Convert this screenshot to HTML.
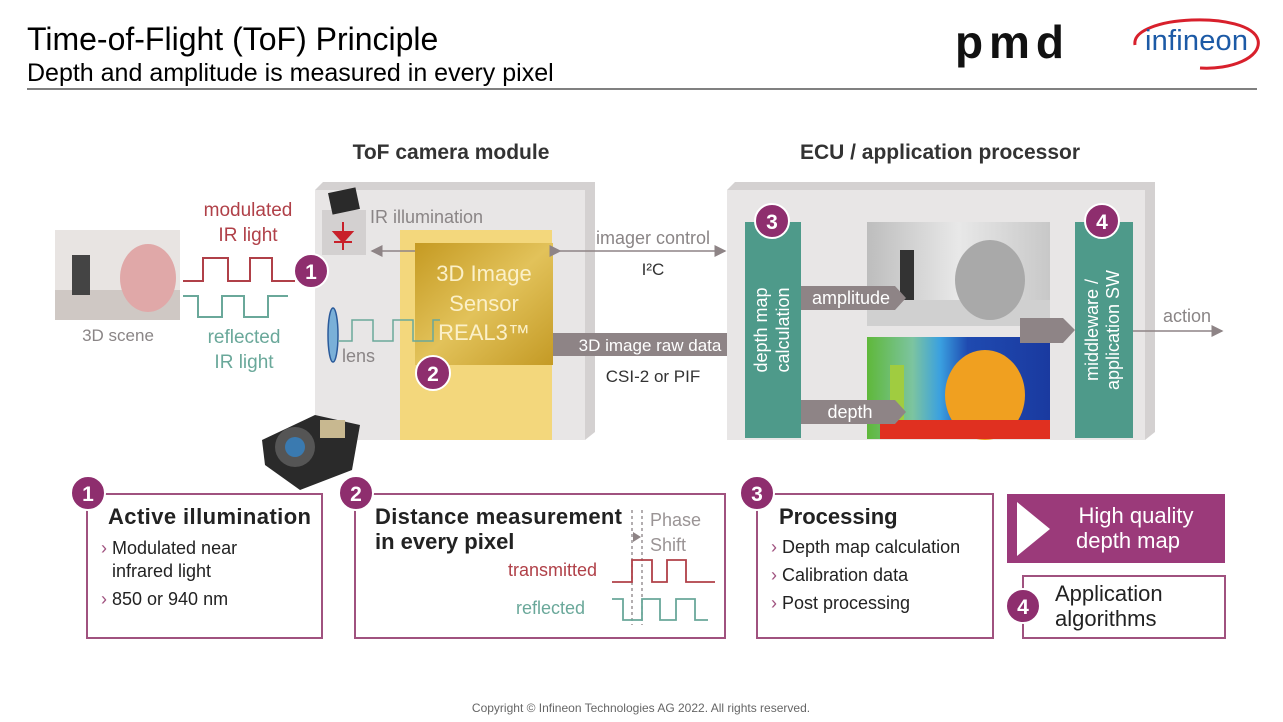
<!DOCTYPE html>
<html><head><meta charset="utf-8"><style>
html,body{margin:0;padding:0;background:#fff;}
svg{display:block;font-family:"Liberation Sans",sans-serif;}
</style></head><body>
<svg width="1283" height="722" viewBox="0 0 1283 722" xmlns="http://www.w3.org/2000/svg">
<defs>
<linearGradient id="gold" x1="0" y1="0" x2="1" y2="1"><stop offset="0" stop-color="#c59a22"/><stop offset="0.5" stop-color="#e2c25a"/><stop offset="1" stop-color="#c49a25"/></linearGradient>
<linearGradient id="depth" x1="0" y1="0" x2="1" y2="0"><stop offset="0" stop-color="#5fb83a"/><stop offset="0.25" stop-color="#7cc4a0"/><stop offset="0.4" stop-color="#3aa0e0"/><stop offset="0.55" stop-color="#1f4ab0"/><stop offset="1" stop-color="#1a3aa0"/></linearGradient>
<linearGradient id="amp" x1="0" y1="0" x2="1" y2="0"><stop offset="0" stop-color="#bdbdbd"/><stop offset="0.5" stop-color="#e8e8e8"/><stop offset="1" stop-color="#c8c8c8"/></linearGradient>
<marker id="ah" markerWidth="8" markerHeight="8" refX="7" refY="4" orient="auto"><path d="M0,0 L8,4 L0,8 z" fill="#8e8486"/></marker>
</defs>

<!-- header -->
<text x="27" y="50" font-size="32" fill="#000">Time-of-Flight (ToF) Principle</text>
<text x="27" y="81" font-size="25" fill="#000">Depth and amplitude is measured in every pixel</text>
<line x1="27" y1="89" x2="1257" y2="89" stroke="#000" stroke-width="1"/>
<text x="955" y="58" font-size="46" font-weight="bold" fill="#111" letter-spacing="6" textLength="115">pmd</text>
<path d="M1135,45 C1130,15 1250,10 1258,40 C1262,58 1230,70 1200,68" fill="none" stroke="#d8202c" stroke-width="3"/>
<text x="1145" y="50" font-size="29" fill="#1c5aa6" textLength="103">infineon</text>

<!-- section titles -->
<text x="451" y="159" font-size="21" font-weight="bold" fill="#333" text-anchor="middle">ToF camera module</text>
<text x="940" y="159" font-size="21" font-weight="bold" fill="#333" text-anchor="middle">ECU / application processor</text>

<!-- left module box -->
<polygon points="315,190 323,182 595,182 595,432 585,440 585,190" fill="#d4d1d1"/>
<rect x="315" y="190" width="270" height="250" fill="#e8e6e6"/>
<rect x="400" y="230" width="152" height="210" fill="#f3d77c"/>
<rect x="415" y="243" width="138" height="122" fill="url(#gold)"/>
<text x="484" y="281" font-size="22" fill="#fbf0c8" text-anchor="middle">3D Image</text>
<text x="484" y="311" font-size="22" fill="#fbf0c8" text-anchor="middle">Sensor</text>
<text x="484" y="340" font-size="22" fill="#fbf0c8" text-anchor="middle">REAL3™</text>
<rect x="322" y="210" width="44" height="45" fill="#d3d0d0"/>
<rect x="330" y="190" width="28" height="22" fill="#2a2a2a" transform="rotate(-12 344 201)"/>
<path d="M343,222 L343,250 M334,232 L352,232 L343,242 z M334,242 L352,242" stroke="#c8202a" stroke-width="2" fill="#c8202a"/>
<text x="370" y="223" font-size="18" fill="#8a8586">IR illumination</text>
<line x1="415" y1="251" x2="372" y2="251" stroke="#8e8486" stroke-width="1.5" marker-end="url(#ah)"/>
<ellipse cx="333" cy="335" rx="5" ry="27" fill="#7ab0d8" stroke="#2a5a9a" stroke-width="1.5"/>
<text x="342" y="362" font-size="18" fill="#8a8586">lens</text>
<path d="M338,341 H352 V320 H373 V341 H393 V320 H413 V341 H433 V320 H440" fill="none" stroke="#6aa89a" stroke-width="1.5"/>

<!-- signals left -->
<text x="248" y="216" font-size="19" fill="#b04048" text-anchor="middle">modulated</text>
<text x="248" y="241" font-size="19" fill="#b04048" text-anchor="middle">IR light</text>
<path d="M183,281 H203 V258 H228 V281 H250 V258 H272 V281 H295" fill="none" stroke="#b04048" stroke-width="2"/>
<path d="M183,296 H198 V317 H222 V296 H244 V317 H268 V296 H288" fill="none" stroke="#6aa89a" stroke-width="2"/>
<text x="244" y="343" font-size="19" fill="#6aa89a" text-anchor="middle">reflected</text>
<text x="244" y="368" font-size="19" fill="#6aa89a" text-anchor="middle">IR light</text>

<!-- 3D scene -->
<rect x="55" y="230" width="125" height="90" fill="#e8e4e2"/>
<rect x="55" y="290" width="125" height="30" fill="#cfc8c4"/>
<rect x="72" y="255" width="18" height="40" fill="#444"/>
<ellipse cx="148" cy="278" rx="28" ry="34" fill="#e0a8a8"/>
<text x="118" y="341" font-size="17" fill="#8a8586" text-anchor="middle">3D scene</text>

<!-- camera module photo -->
<polygon points="262,440 315,415 360,425 352,470 300,490 265,465" fill="#2a2a2a"/>
<circle cx="295" cy="447" r="20" fill="#555"/><circle cx="295" cy="447" r="10" fill="#3a7ab0"/>
<rect x="320" y="420" width="25" height="18" fill="#c8b890"/>

<!-- connectors -->
<line x1="560" y1="251" x2="725" y2="251" stroke="#8e8486" stroke-width="1.5" marker-end="url(#ah)" marker-start="url(#ah)"/>
<text x="653" y="244" font-size="18" fill="#8a8586" text-anchor="middle">imager control</text>
<text x="653" y="275" font-size="17" fill="#333" text-anchor="middle">I²C</text>
<polygon points="553,333 733,333 744,344 733,356 553,356" fill="#8e8486"/>
<text x="650" y="351" font-size="17" fill="#fff" text-anchor="middle">3D image raw data</text>
<text x="653" y="382" font-size="17" fill="#333" text-anchor="middle">CSI-2 or PIF</text>

<!-- right ECU box -->
<polygon points="727,190 735,182 1155,182 1155,432 1145,440 1145,190" fill="#d4d1d1"/>
<rect x="727" y="190" width="418" height="250" fill="#e8e6e6"/>
<rect x="745" y="222" width="56" height="216" fill="#4e9a8a"/>
<text transform="translate(767,330) rotate(-90)" font-size="18" fill="#fff" text-anchor="middle">depth map</text>
<text transform="translate(789,330) rotate(-90)" font-size="18" fill="#fff" text-anchor="middle">calculation</text>
<rect x="1075" y="222" width="58" height="216" fill="#4e9a8a"/>
<text transform="translate(1098,330) rotate(-90)" font-size="18" fill="#fff" text-anchor="middle">middleware /</text>
<text transform="translate(1119,330) rotate(-90)" font-size="18" fill="#fff" text-anchor="middle">application SW</text>
<rect x="867" y="222" width="183" height="104" fill="url(#amp)"/>
<rect x="867" y="300" width="183" height="26" fill="#d0d0d0"/>
<rect x="900" y="250" width="14" height="50" fill="#333"/>
<ellipse cx="990" cy="280" rx="35" ry="40" fill="#a9a9a9"/>
<rect x="867" y="337" width="183" height="102" fill="url(#depth)"/>
<ellipse cx="985" cy="395" rx="40" ry="45" fill="#f0a020"/>
<rect x="890" y="365" width="14" height="55" fill="#a0cc40"/>
<rect x="880" y="420" width="170" height="19" fill="#e03020"/>
<polygon points="801,286 895,286 906,298 895,310 801,310" fill="#8e8486"/>
<text x="851" y="304" font-size="18" fill="#fff" text-anchor="middle">amplitude</text>
<polygon points="801,400 895,400 906,412 895,424 801,424" fill="#8e8486"/>
<text x="850" y="418" font-size="18" fill="#fff" text-anchor="middle">depth</text>
<polygon points="1020,318 1063,318 1075,330 1063,343 1020,343" fill="#8e8486"/>
<line x1="1133" y1="331" x2="1222" y2="331" stroke="#8e8486" stroke-width="1.5" marker-end="url(#ah)"/>
<text x="1187" y="322" font-size="18" fill="#8a8586" text-anchor="middle">action</text>

<!-- bottom boxes -->
<g fill="none" stroke="#a0527f" stroke-width="2">
<rect x="87" y="494" width="235" height="144"/>
<rect x="355" y="494" width="370" height="144"/>
<rect x="757" y="494" width="236" height="144"/>
<rect x="1023" y="576" width="202" height="62"/>
</g>
<rect x="1007" y="494" width="218" height="69" fill="#9b3a7a"/>
<polygon points="1017,502 1017,556 1050,529" fill="#fff"/>
<text x="1136" y="523" font-size="22" fill="#fff" text-anchor="middle">High quality</text>
<text x="1128" y="548" font-size="22" fill="#fff" text-anchor="middle">depth map</text>

<text x="108" y="524" font-size="22" font-weight="bold" fill="#222" textLength="203">Active illumination</text>
<text x="101" y="554" font-size="18" fill="#222"><tspan fill="#a0527f">›</tspan> Modulated near</text>
<text x="112" y="577" font-size="18" fill="#222">infrared light</text>
<text x="101" y="605" font-size="18" fill="#222"><tspan fill="#a0527f">›</tspan> 850 or 940 nm</text>

<text x="375" y="524" font-size="22" font-weight="bold" fill="#222" textLength="247">Distance measurement</text>
<text x="375" y="549" font-size="22" font-weight="bold" fill="#222">in every pixel</text>
<text x="650" y="526" font-size="18" fill="#9a9495">Phase</text>
<text x="650" y="551" font-size="18" fill="#9a9495">Shift</text>
<line x1="632" y1="510" x2="632" y2="625" stroke="#9a9495" stroke-dasharray="3,3" stroke-width="1.5"/>
<line x1="642" y1="510" x2="642" y2="625" stroke="#9a9495" stroke-dasharray="3,3" stroke-width="1.5"/>
<polygon points="633,532 641,537 633,542" fill="#8e8486"/>
<text x="597" y="576" font-size="18" fill="#b04048" text-anchor="end">transmitted</text>
<path d="M612,582 H632 V560 H652 V582 H667 V560 H686 V582 H715" fill="none" stroke="#b04048" stroke-width="1.8"/>
<text x="585" y="614" font-size="18" fill="#6aa89a" text-anchor="end">reflected</text>
<path d="M612,599 H623 V620 H642 V599 H660 V620 H676 V599 H695 V620 H708" fill="none" stroke="#6aa89a" stroke-width="1.8"/>

<text x="779" y="524" font-size="22" font-weight="bold" fill="#222">Processing</text>
<text x="771" y="553" font-size="18" fill="#222"><tspan fill="#a0527f">›</tspan> Depth map calculation</text>
<text x="771" y="581" font-size="18" fill="#222"><tspan fill="#a0527f">›</tspan> Calibration data</text>
<text x="771" y="609" font-size="18" fill="#222"><tspan fill="#a0527f">›</tspan> Post processing</text>

<text x="1055" y="601" font-size="22" fill="#222">Application</text>
<text x="1055" y="626" font-size="22" fill="#222">algorithms</text>

<!-- numbered circles -->
<g font-size="21" font-weight="bold" fill="#fff" text-anchor="middle">
<circle cx="311" cy="271" r="17" fill="#8e2e6e" stroke="#fff" stroke-width="2"/><text x="311" y="279">1</text>
<circle cx="433" cy="373" r="17" fill="#8e2e6e" stroke="#fff" stroke-width="2"/><text x="433" y="381">2</text>
<circle cx="772" cy="221" r="17" fill="#8e2e6e" stroke="#fff" stroke-width="2"/><text x="772" y="229">3</text>
<circle cx="1102" cy="221" r="17" fill="#8e2e6e" stroke="#fff" stroke-width="2"/><text x="1102" y="229">4</text>
<circle cx="88" cy="493" r="17" fill="#8e2e6e" stroke="#fff" stroke-width="2"/><text x="88" y="501">1</text>
<circle cx="356" cy="493" r="17" fill="#8e2e6e" stroke="#fff" stroke-width="2"/><text x="356" y="501">2</text>
<circle cx="757" cy="493" r="17" fill="#8e2e6e" stroke="#fff" stroke-width="2"/><text x="757" y="501">3</text>
<circle cx="1023" cy="606" r="17" fill="#8e2e6e" stroke="#fff" stroke-width="2"/><text x="1023" y="614">4</text>
</g>

<text x="641" y="712" font-size="12" fill="#666" text-anchor="middle">Copyright © Infineon Technologies AG 2022. All rights reserved.</text>
</svg>
</body></html>
